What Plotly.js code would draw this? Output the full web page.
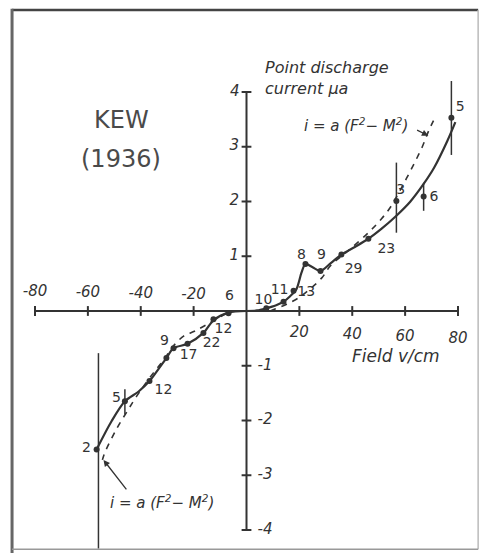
<!DOCTYPE html>
<html><head><meta charset="utf-8">
<script src="https://cdn.plot.ly/plotly-3.0.1.min.js"></script>
<style>html,body{margin:0;padding:0;background:#fff}</style>
</head><body><div id="chart" style="width:482px;height:553px"></div>
<script>
// ---- data ----
const xTicks = [-80, -60, -40, -20, 20, 40, 60, 80];
const xTickLabels = ['-80', '-60', '-40', '-20', '20', '40', '60', '80'];
const yTicks = [4, 3, 2, 1, -1, -2, -3, -4];
const yTickLabels = ['4', '3', '2', '1', '-1', '-2', '-3', '-4'];

// observed points (positive field)
const posX = [7.5, 14, 17.8, 22.3, 28, 35.9, 46.1, 56.7, 67, 77.5];
const posY = [0.05, 0.17, 0.37, 0.86, 0.73, 1.03, 1.32, 2.01, 2.09, 3.53];
const posLabels = ['10', '11', '13', '8', '9', '29', '23', '3', '6', '5'];
const posLabelX = [6.4, 12.5, 22.6, 20.8, 28.4, 40.5, 52.9, 58.3, 70.9, 80.8];
const posLabelY = [0.2, 0.38, 0.33, 1.02, 1.02, 0.76, 1.12, 2.2, 2.07, 3.72];

// observed points (negative field)
const negX = [-6.8, -12.5, -16.3, -22.3, -27.6, -30.3, -36.7, -46, -56.7];
const negY = [-0.04, -0.15, -0.4, -0.6, -0.68, -0.86, -1.28, -1.65, -2.53];
const negLabels = ['6', '12', '22', '17', '9', '12', '5', '2'];
const negLabelX = [-6.4, -8.7, -13.2, -21.9, -31, -31.4, -49.2, -60.5];
const negLabelY = [0.27, -0.33, -0.59, -0.82, -0.55, -1.45, -1.59, -2.51];

// drawn solid curve
const curvePosX = [0, 4, 7.5, 11, 14, 16.5, 18.9, 20.8, 22.3, 25, 28, 32, 35.9, 41, 46.1, 51, 56.7, 62, 67, 71, 76, 79];
const curvePosY = [0, 0.01, 0.05, 0.1, 0.17, 0.27, 0.4, 0.7, 0.86, 0.8, 0.73, 0.88, 1.03, 1.17, 1.32, 1.5, 1.74, 2.0, 2.32, 2.62, 3.11, 3.45];
const curveNegX = [0, -6.8, -12.5, -16.3, -22.3, -27.6, -30.3, -36.7, -40.8, -46, -51, -56.7];
const curveNegY = [0, -0.03, -0.17, -0.4, -0.6, -0.68, -0.86, -1.28, -1.47, -1.65, -2.01, -2.53];

// dashed curve i = a(F^2 - M^2)
const dashPosX = [9, 11, 15, 19.7, 24, 28.4, 32, 39, 46.5, 51, 54.5, 57.5, 60.5, 63.5, 66.5, 69, 71.5];
const dashPosY = [0, 0.04, 0.12, 0.24, 0.4, 0.6, 0.84, 1.12, 1.45, 1.68, 1.9, 2.15, 2.42, 2.7, 3.0, 3.3, 3.55];
const dashNegX = [-7.6, -14, -19.7, -23.8, -28, -31.4, -35.2, -41.6, -44.6, -49.2, -53.7, -54.5];
const dashNegY = [-0.04, -0.22, -0.37, -0.46, -0.66, -0.9, -1.13, -1.56, -1.79, -2.16, -2.6, -2.72];

// error bars: x, low, high
const errX = [77.5, 56.7, 67, -56, -46];
const errLow = [2.85, 1.43, 1.83, -4.34, -1.89];
const errHigh = [4.2, 2.71, 2.34, -0.77, -1.43];

const ink = '#333';
const hand = {family: 'DejaVu Sans', size: 15, color: ink, style: 'italic'};
const digits = {family: 'DejaVu Sans', size: 14, color: ink};

const traces = [];
const skip = {hoverinfo: 'skip'};
// axes
traces.push({x: [-80, 80], y: [0, 0], mode: 'lines', line: {color: ink, width: 2}, ...skip});
traces.push({x: [0, 0], y: [-4, 4], mode: 'lines', line: {color: ink, width: 2}, ...skip});
traces.push({x: xTicks, y: xTicks.map(() => 0), mode: 'markers', marker: {symbol: 'line-ns', size: 7, line: {color: ink, width: 2}}, ...skip});
traces.push({x: yTicks.map(() => 0), y: yTicks, mode: 'markers', marker: {symbol: 'line-ew', size: 7, line: {color: ink, width: 2}}, ...skip});
// tick labels
traces.push({x: xTicks.slice(0, 4), y: [0.34, 0.32, 0.3, 0.28], text: xTickLabels.slice(0, 4), mode: 'text', textfont: hand, ...skip});
traces.push({x: xTicks.slice(4), y: [-0.4, -0.44, -0.48, -0.52], text: xTickLabels.slice(4), mode: 'text', textfont: hand, ...skip});
traces.push({x: [-4.4, -4.6, -4.6, -4.6], y: yTicks.slice(0, 4), text: yTickLabels.slice(0, 4), mode: 'text', textfont: hand, ...skip});
traces.push({x: [7, 7, 7, 7], y: yTicks.slice(4), text: yTickLabels.slice(4), mode: 'text', textfont: hand, ...skip});
// error bars
errX.forEach((ex, i) => traces.push({x: [ex, ex], y: [errLow[i], errHigh[i]], mode: 'lines', line: {color: ink, width: 1.5}, ...skip}));
// dashed
traces.push({x: dashPosX, y: dashPosY, mode: 'lines', line: {color: ink, width: 1.6, dash: '6px,6px', shape: 'spline'}, ...skip});
traces.push({x: dashNegX, y: dashNegY, mode: 'lines', line: {color: ink, width: 1.6, dash: '6px,6px', shape: 'spline'}, ...skip});
// solid
traces.push({x: curvePosX, y: curvePosY, mode: 'lines', line: {color: ink, width: 2.2, shape: 'spline', smoothing: 0.8}, ...skip});
traces.push({x: curveNegX, y: curveNegY, mode: 'lines', line: {color: ink, width: 2.2, shape: 'spline', smoothing: 0.8}, ...skip});
// points
traces.push({x: posX, y: posY, mode: 'markers', marker: {color: ink, size: 6}, ...skip});
traces.push({x: negX, y: negY, mode: 'markers', marker: {color: ink, size: 6}, ...skip});
traces.push({x: posLabelX, y: posLabelY, text: posLabels, mode: 'text', textfont: digits, ...skip});
traces.push({x: negLabelX, y: negLabelY, text: negLabels, mode: 'text', textfont: digits, ...skip});

const pline = (x0, y0, x1, y1, color, width) => ({type: 'line', xref: 'paper', yref: 'paper', x0, y0, x1, y1, line: {color, width}});

const layout = {
  width: 482, height: 553,
  margin: {l: 0, r: 0, t: 0, b: 0},
  paper_bgcolor: '#fff', plot_bgcolor: '#fff',
  showlegend: false,
  xaxis: {range: [-93.24, 89.08], visible: false, fixedrange: true},
  yaxis: {range: [-4.42, 5.68], visible: false, fixedrange: true},
  shapes: [
    pline(0.025, 0.982, 0.992, 0.982, '#444', 2.5),
    pline(0.025, 0.0, 0.025, 0.984, '#666', 3),
    pline(0.992, 0.007, 0.992, 0.982, '#bbb', 1.5),
    pline(0.025, 0.007, 0.992, 0.007, '#999', 1.5)
  ],
  annotations: [
    {x: -47.3, y: 3.48, text: 'KEW', showarrow: false, font: {family: 'DejaVu Sans', size: 24, color: '#4a4a4a'}},
    {x: -47.3, y: 2.78, text: '(1936)', showarrow: false, font: {family: 'DejaVu Sans', size: 24, color: '#4a4a4a'}},
    {x: 6.2, y: 4.25, xanchor: 'left', align: 'left', text: 'Point discharge<br>current μa', showarrow: false, font: {family: 'DejaVu Sans', size: 16, color: ink, style: 'italic'}},
    {x: 56.7, y: -0.82, text: 'Field v/cm', showarrow: false, font: {family: 'DejaVu Sans', size: 17, color: ink, style: 'italic'}},
    {x: 41.6, y: 3.39, text: 'i = a (F<sup>2</sup>− M<sup>2</sup>)', showarrow: false, font: hand},
    {x: 68.8, y: 3.2, ax: 63.4, ay: 3.33, axref: 'x', ayref: 'y', text: ' ', showarrow: true, arrowhead: 2, arrowsize: 1, arrowwidth: 1.3, arrowcolor: ink},
    {x: -32.1, y: -3.48, text: 'i = a (F<sup>2</sup>− M<sup>2</sup>)', showarrow: false, font: hand},
    {x: -54.1, y: -2.72, ax: -44.3, ay: -3.33, axref: 'x', ayref: 'y', text: ' ', showarrow: true, arrowhead: 2, arrowsize: 1, arrowwidth: 1.3, arrowcolor: ink}
  ]
};
Plotly.newPlot('chart', traces, layout, {staticPlot: true});
</script></body></html>
